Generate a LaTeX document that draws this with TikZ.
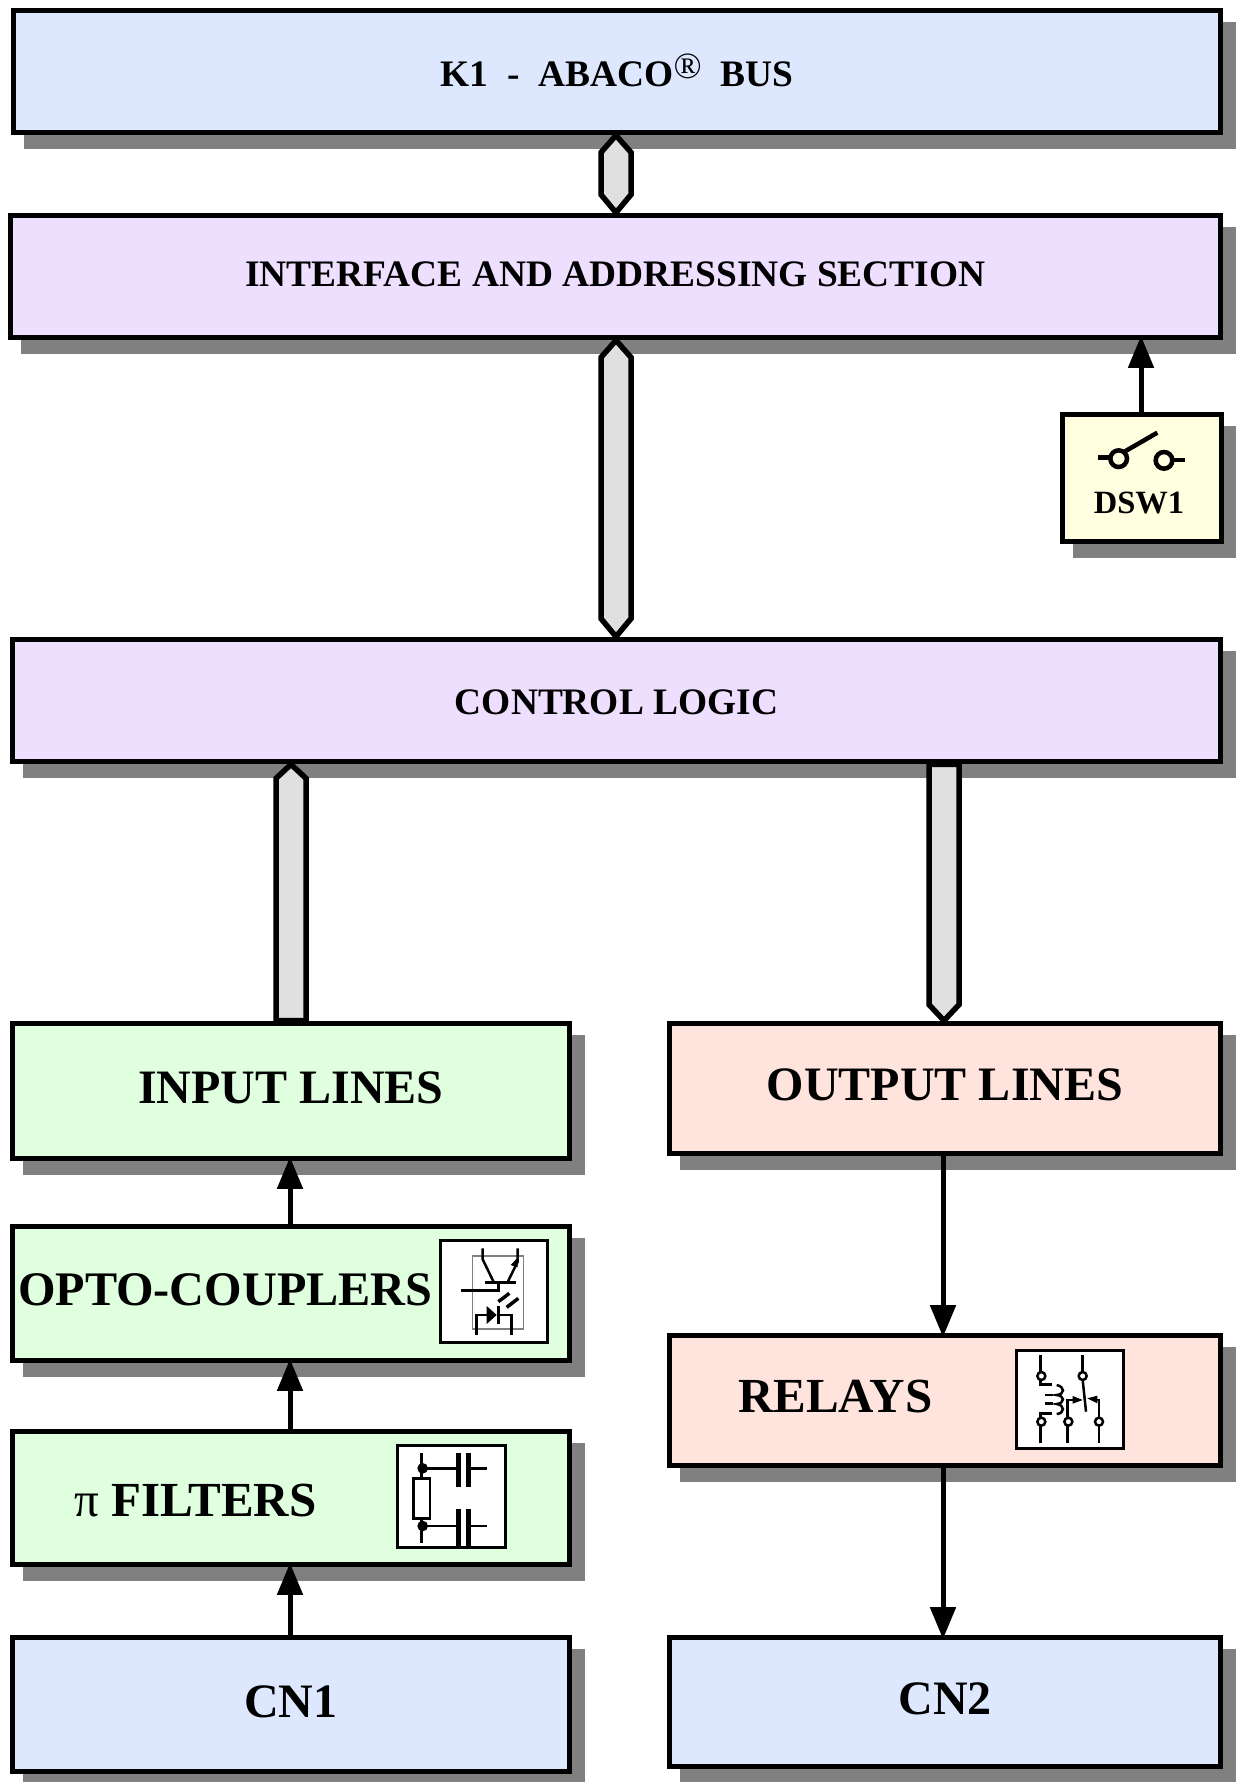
\documentclass[tikz,border=0pt]{standalone}
\usepackage{fontspec}
\setmainfont{Liberation Serif}
\usetikzlibrary{arrows.meta,shadows,calc}
\definecolor{cblue}{HTML}{DDE8FF}
\definecolor{cpurple}{HTML}{EEDFFF}
\definecolor{cgreen}{HTML}{DFFFDF}
\definecolor{cpink}{HTML}{FFE4DE}
\definecolor{cyel}{HTML}{FFFFDF}
\definecolor{cshadow}{HTML}{808080}
\definecolor{cbus}{HTML}{E0E0E0}
\tikzset{
 boxnode/.style={draw=black,line width=5.5pt,rectangle,inner sep=0pt,
   general shadow={fill=cshadow,draw=cshadow,shadow xshift=13pt,shadow yshift=-14pt}},
 busline/.style={draw=black,fill=cbus,line width=5.5pt,miter limit=4},
 flowarrow/.style={draw=black,line width=5pt,shorten >=-4.5pt,-{Triangle[length=32pt,width=25pt]}},
 iconbox/.style={draw=black,fill=white,line width=3pt},
 wire/.style={draw=black,line width=2.5pt},
 lbl/.style={font=\fontsize{#1}{#1}\selectfont\bfseries,inner sep=0pt,text=black},
}
% name, x0, y0, x1, y1, fill, size, raise, text
\newcommand\bx[9]{%
 \pgfmathsetmacro\cxx{(#2+#4)/2}\pgfmathsetmacro\cyy{(#3+#5)/2}%
 \pgfmathsetmacro\wdd{#4-#2-2.75}\pgfmathsetmacro\htt{#5-#3-2.75}%
 \node[boxnode,fill=#6,minimum width=\wdd pt,minimum height=\htt pt,lbl=#7] (#1) at (\cxx,\cyy) {\smash{\raisebox{#8pt}{#9}}};}
\begin{document}
\begin{tikzpicture}[x=1pt,y=-1pt]
\useasboundingbox (0,0) rectangle (1236,1782);
\clip (0,0) rectangle (1236,1782);
\bx{kone}{12}{9}{1222}{134}{cblue}{37.4}{-14.8}{K1~~-~~ABACO\raisebox{8pt}{\fontsize{37}{37}\selectfont\fontseries{m}\selectfont\textregistered}~~BUS}
\bx{ifc}{9}{214}{1222}{339}{cpurple}{37.4}{-10}{INTERFACE AND ADDRESSING SECTION}
\bx{dsw}{1061}{413}{1223}{543}{cyel}{30}{0}{}
\bx{ctl}{11}{638}{1222}{763}{cpurple}{37.4}{-13.5}{CONTROL LOGIC}
\bx{inl}{11}{1022}{571}{1160}{cgreen}{48}{-12}{INPUT LINES}
\bx{opto}{11}{1225}{571}{1362}{cgreen}{47}{0}{}
\bx{pif}{11}{1430}{571}{1566}{cgreen}{47}{0}{}
\bx{cnone}{11}{1636}{571}{1773}{cblue}{48}{-13}{CN1}
\bx{outl}{668}{1022}{1222}{1155}{cpink}{48}{-12.3}{OUTPUT LINES}
\bx{rel}{668}{1334}{1222}{1467}{cpink}{47}{0}{}
\bx{cntwo}{668}{1636}{1222}{1768}{cblue}{48}{-12}{CN2}
% text placed off-centre
\node[lbl=48.2,anchor=west] (optot) at (18,1290) {OPTO-COUPLERS};
\node[lbl=49,anchor=west] (pit) at (74,1500) {{\fontseries{m}\selectfont π} FILTERS};
\node[lbl=49,anchor=west] (relt) at (738,1396) {RELAYS};
\node[lbl=32.5] (dswt) at (1139,503) {DSW1};
% busses
\coordinate (bxa) at (616,0);
\coordinate (bxb) at (291,0);
\coordinate (bxc) at (944,0);
\draw[busline] (bxa |- kone.south) -- ++(15,17) -- ($(bxa |- ifc.north)+(15,-18)$) -- (bxa |- ifc.north) -- ($(bxa |- ifc.north)+(-15,-18)$) -- ($(bxa |- kone.south)+(-15,17)$) -- cycle;
\draw[busline] (bxa |- ifc.south) -- ++(15,17) -- ($(bxa |- ctl.north)+(15,-18)$) -- (bxa |- ctl.north) -- ($(bxa |- ctl.north)+(-15,-18)$) -- ($(bxa |- ifc.south)+(-15,17)$) -- cycle;
\draw[busline] (bxb |- ctl.south) -- ++(15,14) -- ($(bxb |- inl.north)+(15,0)$) -- ($(bxb |- inl.north)+(-15,0)$) -- ($(bxb |- ctl.south)+(-15,14)$) -- cycle;
\draw[busline] ($(bxc |- ctl.south)+(-15,0)$) -- ($(bxc |- ctl.south)+(15,0)$) -- ($(bxc |- outl.north)+(15,-16)$) -- (bxc |- outl.north) -- ($(bxc |- outl.north)+(-15,-16)$) -- cycle;
% arrows
\coordinate (axa) at (1141,0);
\coordinate (axb) at (290,0);
\coordinate (axc) at (943,0);
\draw[flowarrow] (axa |- dsw.north) -- (axa |- ifc.south);
\draw[flowarrow] (axb |- opto.north) -- (axb |- inl.south);
\draw[flowarrow] (axb |- pif.north) -- (axb |- opto.south);
\draw[flowarrow] (axb |- cnone.north) -- (axb |- pif.south);
\draw[flowarrow] (axc |- outl.south) -- (axc |- rel.north);
\draw[flowarrow] (axc |- rel.south) -- (axc |- cntwo.north);
% switch
\begin{scope}[shift={(960,320)},x=1pt/3,y=-1pt/3,line width=4.5pt]
 \draw (415,412) -- (450,412);
 \draw (490,397) -- (592,338);
 \draw[fill=cyel] (476,416) circle[radius=25];
 \draw[fill=cyel] (612,421) circle[radius=25];
 \draw (640,420) -- (675,420);
\end{scope}
% opto icon
\begin{scope}[shift={(420,1220)},x=1pt/3,y=-1pt/3]
 \draw[iconbox] (60,62) rectangle (383,367);
 \draw[draw=gray,line width=1.5pt] (157,108) rectangle (310,327);
 \draw[wire] (188,85) -- (188,118) -- (222,188);
 \draw[wire] (293,85) -- (293,125) -- (262,188);
 \fill (293,113) -- (293,142) -- (272,135) -- cycle;
 \draw[wire] (195,188) -- (288,188);
 \draw[wire] (235,188) -- (235,212) -- (122,212);
 \draw[line width=3.5pt] (235,245) -- (268,220);
 \draw[line width=3.5pt] (260,262) -- (295,235);
 \fill (200,258) -- (200,312) -- (230,285) -- cycle;
 \draw[wire] (235,258) -- (235,312);
 \draw[wire] (170,345) -- (170,285) -- (200,285);
 \draw[wire] (230,285) -- (275,285) -- (275,345);
\end{scope}
% filter icon
\begin{scope}[shift={(385,1430)},x=1pt/3,y=-1pt/3]
 \draw[iconbox] (38,47) rectangle (360,353);
 \draw[wire] (110,70) -- (110,145);
 \draw[wire] (110,265) -- (110,340);
 \draw[wire] (113,115) -- (215,115);
 \draw[wire] (113,288) -- (215,288);
 \draw[wire] (250,115) -- (305,115);
 \draw[wire] (250,288) -- (305,288);
 \fill (113,115) circle[radius=16];
 \fill (113,288) circle[radius=16];
 \draw[wire,fill=white] (85,145) rectangle (135,265);
 \draw[line width=5.5pt] (220,68) -- (220,172);
 \draw[line width=5.5pt] (250,68) -- (250,172);
 \draw[line width=5.5pt] (220,238) -- (220,350);
 \draw[line width=5.5pt] (250,238) -- (250,350);
\end{scope}
% relay icon
\begin{scope}[shift={(1000,1335)},x=1pt/3,y=-1pt/3]
 \draw[iconbox] (48,45) rectangle (370,340);
 \draw[wire] (122,60) -- (122,112);
 \draw[wire] (122,135) -- (122,148) -- (155,148);
 \draw[wire] (170,150) .. controls (195,155) and (195,178) .. (170,180) .. controls (195,182) and (195,205) .. (170,207) .. controls (195,210) and (195,235) .. (170,237);
 \draw[wire] (135,180) -- (158,180);
 \draw[wire] (135,205) -- (158,205);
 \draw[wire] (155,235) -- (122,235) -- (122,250);
 \draw[wire] (122,270) -- (122,325);
 \draw[wire] (248,60) -- (248,112);
 \draw[wire] (248,135) -- (258,230);
 \draw[wire] (203,250) -- (203,195) -- (220,195);
 \fill (218,183) -- (218,206) -- (248,195) -- cycle;
 \draw[wire] (297,250) -- (297,195) -- (285,195);
 \fill (292,182) -- (292,205) -- (262,190) -- cycle;
 \draw[wire] (203,270) -- (203,325);
 \draw[wire] (297,270) -- (297,325);
 \foreach \px/\py in {124/123,248/123,124/260,205/260,297/260}
  \draw[wire,fill=white] (\px,\py) circle[radius=12];
\end{scope}
\end{tikzpicture}
\end{document}
